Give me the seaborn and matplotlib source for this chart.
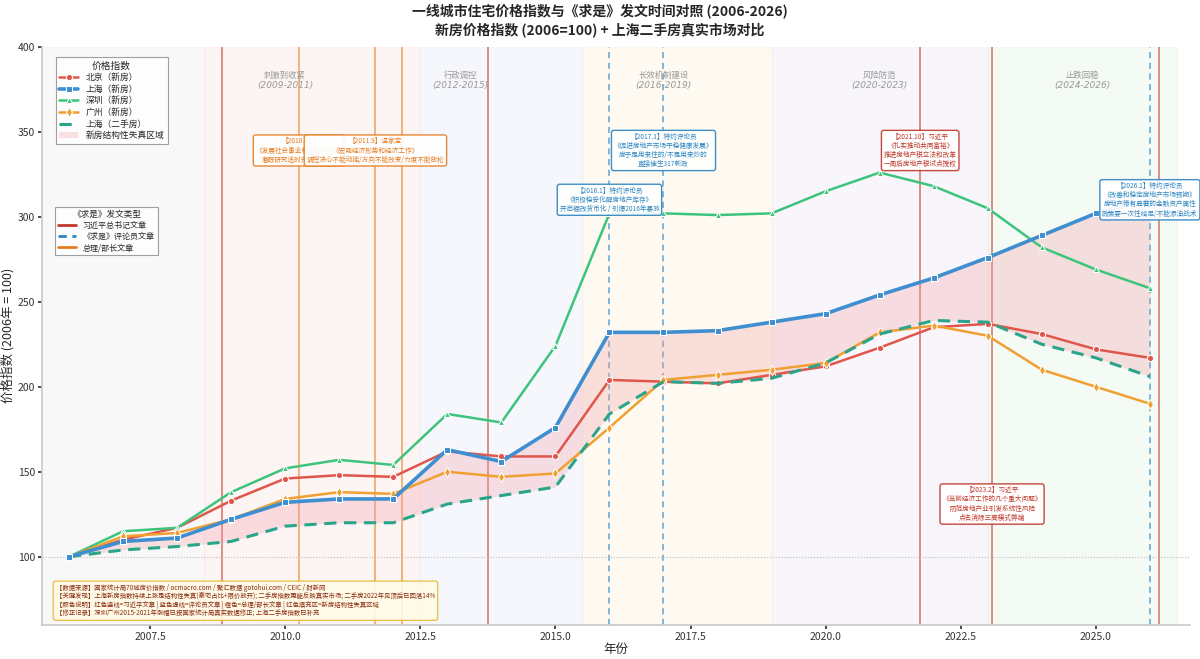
import matplotlib
matplotlib.use("Agg")
import matplotlib.pyplot as plt
from matplotlib.lines import Line2D
import seaborn as sns
import pandas as pd

# 数据: 年份与各城市价格指数 (2006=100)
years = list(range(2006, 2027))
beijing = [100, 110, 117, 133, 146, 148, 147, 162, 159, 159, 204, 203, 202, 207, 212, 223, 235, 237, 231, 222, 217]
shanghai = [100, 109, 111, 122, 132, 134, 134, 163, 156, 176, 232, 232, 233, 238, 243, 254, 264, 276, 289, 302, 310]
shenzhen = [100, 115, 117, 138, 152, 157, 154, 184, 179, 224, 302, 302, 301, 302, 315, 326, 318, 305, 282, 269, 258]
guangzhou = [100, 112, 114, 122, 134, 138, 137, 150, 147, 149, 176, 204, 207, 210, 214, 232, 236, 230, 210, 200, 190]
shanghai_2nd = [100, 104, 106, 109, 118, 120, 120, 131, 136, 141, 184, 203, 202, 205, 214, 231, 239, 238, 225, 217, 206]

# 政策阶段
phase_names = ["刺激到收紧", "行政调控", "长效机制建设", "风险防范", "止跌回稳"]
phase_years = ["(2009-2011)", "(2012-2015)", "(2016-2019)", "(2020-2023)", "(2024-2026)"]
phase_spans = [(2008.5, 2012.5), (2012.5, 2015.5), (2015.5, 2019.0), (2019.0, 2023.0), (2023.0, 2026.5)]
phase_label_x = [2010.0, 2013.25, 2017.0, 2021.0, 2024.75]
phase_colors = ["#fbe4e4", "#e6edf8", "#fdf0dc", "#efe8f5", "#e4f3e4"]

# 《求是》发文
xi_dates = [2008.83, 2013.75, 2021.75, 2023.08, 2026.17]
comment_dates = [2016.0, 2017.0, 2026.0]
premier_dates = [2010.25, 2011.67, 2012.17]

notes_x = [2010.25, 2011.67, 2016.0, 2017.0, 2021.75, 2023.08, 2026.0]
notes_y = [339, 339, 310, 339, 339, 131, 310]
notes_kind = ["premier", "premier", "comment", "comment", "xi", "xi", "comment"]
notes_text = [
    "【2010.4】\n《发展社会事业和改善民生》\n着眼研究适时开征房产税",
    "【2011.9】温家宝\n《宏观经济形势和经济工作》\n调控决心不能动摇/方向不能改变/力度不能放松",
    "【2016.1】特约评论员\n《积极稳妥化解房地产库存》\n开启棚改货币化 / 引爆2016年暴涨",
    "【2017.1】特约评论员\n《促进房地产市场平稳健康发展》\n房子是用来住的/不是用来炒的\n直接催生317新政",
    "【2021.10】习近平\n《扎实推动共同富裕》\n推进房地产税立法和改革\n一周后房地产税试点授权",
    "【2023.2】习近平\n《当前经济工作的几个重大问题》\n防范房地产业引发系统性风险\n点名消除三高模式弊端",
    "【2026.1】特约评论员\n《改善和稳定房地产市场预期》\n房地产带有显著的金融资产属性\n政策要一次性给足/不能添油战术",
]

kind_color = {"xi": "#c0392b", "comment": "#2e86c1", "premier": "#e67e22"}

sns.set_theme(style="ticks")
plt.rcParams["font.family"] = ["Noto Sans CJK SC", "DejaVu Sans"]
plt.rcParams["axes.unicode_minus"] = False

fig = plt.figure(figsize=(12, 6.59), dpi=100)
ax = fig.add_axes([0.035, 0.052, 0.957, 0.877])

# 阶段背景
ax.axvspan(2005.5, 2008.5, color="#f4f4f4", alpha=0.6, zorder=0)
for (a, b), c in zip(phase_spans, phase_colors):
    ax.axvspan(a, b, color=c, alpha=0.4, zorder=0)
for x, n, yl in zip(phase_label_x, phase_names, phase_years):
    ax.text(x, 383, n, ha="center", va="center", fontsize=6, color="#999999")
    ax.text(x, 377, yl, ha="center", va="center", fontsize=6.5, color="#999999",
            style="italic", family="DejaVu Sans")

# 发文竖线
for d in xi_dates:
    ax.axvline(d, color=kind_color["xi"], lw=1.1, alpha=0.7, zorder=1)
for d in premier_dates:
    ax.axvline(d, color=kind_color["premier"], lw=1.1, alpha=0.7, zorder=1)
for d in comment_dates:
    ax.axvline(d, color=kind_color["comment"], lw=1.1, alpha=0.75, ls=(0, (4, 3)), zorder=1)

ax.axhline(100, color="#bbbbbb", lw=0.8, ls=":", zorder=1)

# 失真区域
ax.fill_between(years, shanghai, shanghai_2nd, where=[a >= b for a, b in zip(shanghai, shanghai_2nd)],
                color="#f4a0a8", alpha=0.3, label="新房结构性失真区域", zorder=2, lw=0)

df = pd.DataFrame({"年份": years, "北京": beijing, "上海": shanghai, "深圳": shenzhen,
                   "广州": guangzhou, "上海二手": shanghai_2nd})

sns.lineplot(data=df, x="年份", y="北京", ax=ax, color="#e0564b", marker="o", markersize=4.5,
             lw=1.8, label="北京（新房）", zorder=4)
sns.lineplot(data=df, x="年份", y="上海", ax=ax, color="#3f8fd0", marker="s", markersize=5,
             lw=2.6, label="上海（新房）", zorder=5)
sns.lineplot(data=df, x="年份", y="深圳", ax=ax, color="#3dc47c", marker="^", markersize=5,
             lw=1.8, label="深圳（新房）", zorder=4)
sns.lineplot(data=df, x="年份", y="广州", ax=ax, color="#f0a030", marker="d", markersize=5,
             lw=1.8, label="广州（新房）", zorder=4)
sns.lineplot(data=df, x="年份", y="上海二手", ax=ax, color="#2aa58a", lw=2.2,
             ls=(0, (4, 2.5)), label="上海（二手房）", zorder=4)

# 注释框
for x, y, k, t in zip(notes_x, notes_y, notes_kind, notes_text):
    c = kind_color[k]
    ax.text(x, y, t, ha="center", va="center", fontsize=4.8, color=c, linespacing=1.2,
            zorder=8, clip_on=False,
            bbox=dict(boxstyle="round,pad=0.35", fc="white", ec=c, lw=1.0, alpha=0.92))

# 图例
handles, labels = ax.get_legend_handles_labels()
order = ["北京（新房）", "上海（新房）", "深圳（新房）", "广州（新房）", "上海（二手房）", "新房结构性失真区域"]
hmap = dict(zip(labels, handles))
leg1 = ax.legend([hmap[o] for o in order], order, title="价格指数", loc="upper left",
                 bbox_to_anchor=(0.008, 0.99), fontsize=6.3, title_fontsize=7,
                 frameon=True, edgecolor="#888888", fancybox=False, borderpad=0.4,
                 handlelength=2.2, labelspacing=0.3)
leg1.get_frame().set_linewidth(0.8)
ax.add_artist(leg1)

type_handles = [Line2D([], [], color=kind_color["xi"], lw=2),
                Line2D([], [], color=kind_color["comment"], lw=2, ls=(0, (3, 2))),
                Line2D([], [], color=kind_color["premier"], lw=2)]
leg2 = ax.legend(type_handles, ["习近平总书记文章", "《求是》评论员文章", "总理/部长文章"],
                 title="《求是》发文类型", loc="upper left", bbox_to_anchor=(0.008, 0.73),
                 fontsize=5.8, title_fontsize=6.2, frameon=True, edgecolor="#888888",
                 fancybox=False, handlelength=2.2, labelspacing=0.25, borderpad=0.4)
leg2.get_frame().set_linewidth(0.8)

# 说明框
note = ("【数据来源】国家统计局70城房价指数 / ocmacro.com / 聚汇数据 gotohui.com / CEIC / 财新网\n"
        "【关键发现】上海新房指数持续上涨是结构性失真(豪宅占比+限价放开); 二手房指数更能反映真实市场; 二手房2022年见顶后已回落14%\n"
        "【颜色说明】红色竖线=习近平文章 | 蓝色虚线=评论员文章 | 橙色=总理/部长文章 | 红色填充区=新房结构性失真区域\n"
        "【修正记录】深圳广州2015-2021年涨幅已按国家统计局真实数据修正; 上海二手房指数已补充")
ax.text(0.012, 0.012, note, transform=ax.transAxes, ha="left", va="bottom", fontsize=4.6,
        color="#8b2a10", linespacing=1.12, zorder=9,
        bbox=dict(boxstyle="round,pad=0.4", fc="#fffbe6", ec="#e8b830", lw=0.9, alpha=0.9))

ax.set_xlim(2005.5, 2026.75)
ax.set_ylim(60, 400)
ax.set_xticks([2007.5, 2010.0, 2012.5, 2015.0, 2017.5, 2020.0, 2022.5, 2025.0])
ax.set_xticklabels(["2007.5", "2010.0", "2012.5", "2015.0", "2017.5", "2020.0", "2022.5", "2025.0"])
ax.set_yticks([100, 150, 200, 250, 300, 350, 400])
ax.tick_params(labelsize=7.5, colors="#333333", length=3, pad=2)
ax.set_xlabel("年份", fontsize=9, labelpad=1)
ax.set_ylabel("价格指数 (2006年 = 100)", fontsize=9, labelpad=2)
for s in ["left", "bottom"]:
    ax.spines[s].set_color("#cccccc")
sns.despine(ax=ax)

fig.suptitle("一线城市住宅价格指数与《求是》发文时间对照 (2006-2026)\n新房价格指数 (2006=100) + 上海二手房真实市场对比",
             fontsize=10, fontweight="bold", y=0.995, linespacing=1.3)

fig.savefig("out.png", dpi=100)
